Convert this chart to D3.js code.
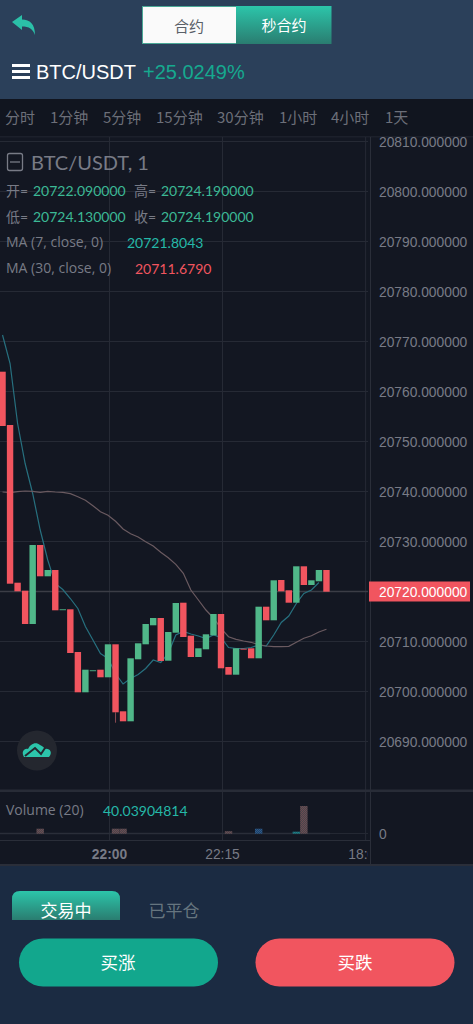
<!DOCTYPE html>
<html><head><meta charset="utf-8">
<script src="https://cdn.jsdelivr.net/npm/d3@7/dist/d3.min.js"></script>
<style>
html,body{margin:0;padding:0;background:#1b2b42;overflow:hidden}
svg{display:block}
text{font-family:"Noto Sans CJK SC","Liberation Sans",sans-serif}
.lat{font-family:Lato,"Noto Sans CJK SC",sans-serif}
.ops{font-family:"Open Sans","Noto Sans CJK SC",sans-serif}
</style></head><body>
<script>
const opens  = [20763.96,20753.3,20721.76,20720.16,20713.5,20729.3,20723.04,20724.3,20716.36,20716.44,20707.9,20699.84,20704.24,20704.36,20702.84,20709.44,20696.04,20694.04,20706.44,20709.44,20713.24,20714.7,20706.16,20711.76,20717.76,20711.16,20706.9,20708.44,20711.24,20715.5,20704.9,20703.36,20708.56,20708.64,20706.64,20716.96,20714.24,20722.3,20720.24,20717.76,20725.04,20721.3,20722.04,20724.3];
const closes = [20753.1,20721.56,20720.04,20713.5,20729.3,20723.04,20724.3,20716.24,20716.44,20707.7,20699.84,20704.36,20704.24,20702.84,20709.44,20695.84,20694.04,20706.64,20709.64,20713.5,20714.7,20706.1,20711.9,20717.7,20710.9,20706.9,20708.64,20711.44,20715.5,20704.64,20703.36,20708.64,20708.5,20706.64,20716.96,20714.24,20722.24,20720.04,20717.76,20725.04,20721.3,20722.24,20724.3,20719.96];
const wickLows = {15:20693.76};
const ma7  = [20771.3,20765.6,20753.6,20745.6,20739.6,20732.3,20726.3,20721.6,20720.4,20718.6,20716.6,20713.0,20710.3,20707.6,20706.6,20703.6,20701.5,20702.6,20703.4,20704.6,20706.3,20705.8,20707.6,20711.3,20712.0,20711.5,20711.1,20710.6,20711.3,20710.8,20708.8,20708.6,20708.6,20708.8,20709.3,20709.1,20711.3,20713.8,20715.1,20717.6,20719.6,20720.3,20721.8];
const ma30 = [20739.9,20739.76,20739.96,20740.1,20740.04,20739.84,20740.04,20739.9,20739.84,20739.56,20738.96,20738.24,20737.16,20735.96,20735.24,20734.04,20732.5,20731.56,20730.9,20729.96,20729.1,20727.84,20726.76,20725.44,20723.64,20720.3,20718.3,20716.3,20714.7,20712.64,20710.96,20710.44,20710.1,20709.84,20709.36,20709.1,20708.96,20708.96,20709.04,20709.84,20710.64,20711.16,20711.9,20712.44];
const volumeBars = [{k:5,v:100,c:"r"},{k:15,v:100,c:"r"},{k:16,v:100,c:"r"},{k:30,v:50,c:"r"},{k:34,v:100,c:"b"},{k:39,v:40,c:"t"},{k:40,v:554,c:"r"}];
const priceTicks = [20690,20700,20710,20720,20730,20740,20750,20760,20770,20780,20790,20800,20810];
const timeTicks = [{m:0,label:"22:00",bold:true},{m:15,label:"22:15"},{m:34,label:"18:00"}];
const intervals = [["分时",5],["1分钟",50],["5分钟",103],["15分钟",156],["30分钟",217],["1小时",279],["4小时",331],["1天",385]];
const lastPrice = 20720;
const RED="#f1555f", GREEN="#50b789", GREY="#787b86";

const W=473,H=1024;
const svg=d3.select("body").append("svg").attr("width",W).attr("height",H);
const defs=svg.append("defs");
function grad(id,c1,c2){const g=defs.append("linearGradient").attr("id",id).attr("x1",0).attr("x2",0).attr("y1",0).attr("y2",1);
 g.append("stop").attr("offset",0).attr("stop-color",c1);g.append("stop").attr("offset",1).attr("stop-color",c2);}
grad("gTab","#2cc5aa","#2a7d70");
function checker(id,c1,c2){const p=defs.append("pattern").attr("id",id).attr("width",2).attr("height",2).attr("patternUnits","userSpaceOnUse");
 p.append("rect").attr("width",2).attr("height",2).attr("fill",c1);
 p.append("rect").attr("width",1).attr("height",1).attr("fill",c2);
 p.append("rect").attr("x",1).attr("y",1).attr("width",1).attr("height",1).attr("fill",c2);}
checker("vr","#47474d","#6e4a50");checker("vb","#1f3f66","#2c5a88");checker("vt","#1a6a72","#1f7f88");
defs.append("clipPath").attr("id","plotClip").append("rect").attr("x",0).attr("y",137).attr("width",368).attr("height",653);
defs.append("clipPath").attr("id","axisClip").append("rect").attr("x",370).attr("y",137).attr("width",103).attr("height",653);
defs.append("clipPath").attr("id","timeClip").append("rect").attr("x",0).attr("y",842).attr("width",368).attr("height",22);

// panels
svg.append("rect").attr("width",W).attr("height",H).attr("fill","#1b2b42");
svg.append("rect").attr("width",W).attr("height",99).attr("fill","#2b405a");
svg.append("rect").attr("y",99).attr("width",W).attr("height",38).attr("fill","#11151f");
svg.append("rect").attr("y",137).attr("width",W).attr("height",727).attr("fill","#131722");
svg.append("rect").attr("y",136).attr("width",W).attr("height",1.5).attr("fill","#1c202b");
svg.append("rect").attr("y",864).attr("width",W).attr("height",2).attr("fill","#2a2e39");

// header
svg.append("path").attr("fill","#2bc0a8").attr("d","M12 22 L22 15 L22 19.5 C30 19.5 35 24 35 35 C33 29 29 26.5 22 26.5 L22 30 Z");
svg.append("rect").attr("x",142.5).attr("y",6.5).attr("width",94).attr("height",37).attr("fill","#fafafa").attr("stroke","#4aa896");
svg.append("rect").attr("x",236).attr("y",6).attr("width",95.5).attr("height",38).attr("fill","url(#gTab)");
svg.append("text").attr("x",189).attr("y",32).attr("text-anchor","middle").attr("font-size",15).attr("fill","#5a6068").text("合约");
svg.append("text").attr("x",284).attr("y",31).attr("text-anchor","middle").attr("font-size",15).attr("fill","#fff").text("秒合约");
[65,71,77].forEach(y=>svg.append("rect").attr("x",12).attr("y",y-1).attr("width",18).attr("height",3).attr("fill","#fff"));
svg.append("text").attr("x",36).attr("y",79).attr("font-size",20).attr("fill","#fff").style("font-family","Liberation Sans").text("BTC/USDT");
svg.append("text").attr("x",143).attr("y",79).attr("font-size",20).attr("fill","#16a98f").style("font-family","Liberation Sans").text("+25.0249%");
svg.append("g").selectAll("text").data(intervals).join("text").attr("x",d=>d[1]).attr("y",123).attr("font-size",15).attr("fill","#6c6f79").text(d=>d[0]);

// scales
const y=d3.scaleLinear().domain([20690,20800]).range([741.5,191.5]);
const x=d3.scaleLinear().domain([0,15]).range([109.5,222.5]);
const cx=k=>x(k-14)-1.5;
const vy=d3.scaleLinear().domain([0,554]).range([833.7,806]);

// grid
const grid=svg.append("g").attr("clip-path","url(#plotClip)");
grid.selectAll(".h").data(priceTicks).join("line").attr("x1",0).attr("x2",368).attr("y1",d=>y(d)).attr("y2",d=>y(d)).attr("stroke","#262a35");
const vg=svg.append("g");
vg.selectAll("line").data(timeTicks).join("line").attr("x1",d=>x(d.m)).attr("x2",d=>x(d.m)).attr("y1",137).attr("y2",864-24).attr("stroke","#262a35");
svg.append("line").attr("x1",370.5).attr("x2",370.5).attr("y1",137).attr("y2",864).attr("stroke","#2a2e39");
svg.append("rect").attr("x",0).attr("y",789.5).attr("width",W).attr("height",2.5).attr("fill","#282c37");
svg.append("line").attr("x1",0).attr("x2",370).attr("y1",840.5).attr("y2",840.5).attr("stroke","#2a2e39");
svg.append("line").attr("x1",0).attr("x2",368).attr("y1",y(lastPrice)).attr("y2",y(lastPrice)).attr("stroke","#3b3d46").attr("stroke-width",1.4);

// MAs then candles
const plot=svg.append("g").attr("clip-path","url(#plotClip)");
const line=d3.line().x((d,i)=>cx(i)).y(d=>y(d));
plot.append("path").attr("d",line(ma7)).attr("fill","none").attr("stroke","#27707f").attr("stroke-width",1.2);
plot.append("path").attr("d",line(ma30)).attr("fill","none").attr("stroke","#6a5a60").attr("stroke-width",1.2);
const cw=6.4;
const candles=opens.map((o,i)=>({i,o,c:closes[i]}));
plot.selectAll(".wick").data(Object.entries(wickLows)).join("line").attr("x1",d=>cx(+d[0])).attr("x2",d=>cx(+d[0])).attr("y1",d=>y(closes[+d[0]])).attr("y2",d=>y(d[1])).attr("stroke","#8a4a52");
plot.selectAll(".c").data(candles).join("rect").attr("x",d=>cx(d.i)-cw/2).attr("width",cw)
 .attr("y",d=>y(Math.max(d.o,d.c))).attr("height",d=>Math.max(0.9,Math.abs(y(d.o)-y(d.c))))
 .attr("fill",d=>d.c>=d.o?GREEN:RED);

// price axis
const ax=svg.append("g").attr("clip-path","url(#axisClip)").append("g").attr("transform","translate(379,0.5)")
 .call(d3.axisRight(y).tickValues(priceTicks).tickSize(0).tickPadding(0).tickFormat(d=>d.toFixed(6)));
ax.select(".domain").remove();
ax.selectAll("text").attr("fill",GREY).attr("font-size",13.8).style("font-family","Liberation Sans");
svg.append("rect").attr("x",369).attr("y",y(lastPrice)-10).attr("width",101).attr("height",20).attr("fill",RED);
svg.append("text").attr("x",379).attr("y",y(lastPrice)+5).attr("font-size",13.8).attr("fill","#fff").style("font-family","Liberation Sans").text(lastPrice.toFixed(6));

// legend
svg.append("rect").attr("x",7.5).attr("y",153.5).attr("width",15).attr("height",17).attr("rx",2).attr("fill","none").attr("stroke",GREY).attr("stroke-width",1.3);
svg.append("line").attr("x1",10).attr("x2",20).attr("y1",162).attr("y2",162).attr("stroke",GREY).attr("stroke-width",1.3);
function t(xp,yp,s,c,fs,cl){return svg.append("text").attr("class",cl||"lat").attr("x",xp).attr("y",yp).attr("font-size",fs||14).attr("fill",c).text(s);}
t(31,170,"BTC/USDT, 1",GREY,20);
const VG="#3cb995";
t(6,195.5,"开=",GREY);t(33,195.5,"20722.090000",VG);t(134,195.5,"高=",GREY);t(161,195.5,"20724.190000",VG);
t(6,221.5,"低=",GREY);t(33,221.5,"20724.130000",VG);t(134,221.5,"收=",GREY);t(161,221.5,"20724.190000",VG);
t(6,247,"MA (7, close, 0)",GREY,14,"ops");t(127,248,"20721.8043","#25b8a8");
t(6,273,"MA (30, close, 0)",GREY,14,"ops");t(135,274,"20711.6790",RED);

// logo
svg.append("circle").attr("cx",37).attr("cy",750.5).attr("r",20).attr("fill","#24272f");
svg.append("path").attr("fill","#2cc5ab").attr("d","M24 757 C21 752 24 748 28 749 C30 744 36 741 40 745 C43 746 44 748 45 749 C50 748 53 753 49 757 Z");
svg.append("path").attr("fill","none").attr("stroke","#24272f").attr("stroke-width",2).attr("d","M25 756 L35 748 L41 754 L47 745");

// volume
t(6,815,"Volume (20)",GREY,14,"ops");
t(103,816,"40.03904814","#25b8a8");
svg.append("line").attr("x1",0).attr("x2",368).attr("y1",833.5).attr("y2",833.5).attr("stroke","#242833");
svg.append("line").attr("x1",0).attr("x2",330).attr("y1",833.5).attr("y2",833.5).attr("stroke","#2a2e39").attr("stroke-width",1.4);
const fillV={r:"url(#vr)",b:"url(#vb)",t:"url(#vt)"};
svg.append("g").selectAll("rect").data(volumeBars).join("rect").attr("x",d=>cx(d.k)-3.7).attr("width",7.4)
 .attr("y",d=>vy(d.v)).attr("height",d=>vy(0)-vy(d.v)).attr("fill",d=>fillV[d.c]);
svg.append("text").attr("x",379).attr("y",838.5).attr("font-size",13.8).attr("fill",GREY).style("font-family","Liberation Sans").text("0");

// time axis
const tg=svg.append("g").attr("clip-path","url(#timeClip)");
tg.selectAll("text").data(timeTicks).join("text").attr("x",d=>x(d.m)).attr("y",859).attr("text-anchor","middle")
 .attr("font-size",13.8).attr("font-weight",d=>d.bold?"bold":"normal").attr("fill",GREY).style("font-family","Liberation Sans").text(d=>d.label);

// bottom
svg.append("path").attr("fill","url(#gTab)").attr("d","M12 920 V899 Q12 891 20 891 H112 Q120 891 120 899 V920 Z");
svg.append("text").attr("x",66).attr("y",917).attr("text-anchor","middle").attr("font-size",17).attr("fill","#fff").text("交易中");
svg.append("text").attr("x",174).attr("y",917).attr("text-anchor","middle").attr("font-size",17).attr("fill","#66757f").text("已平仓");
svg.append("rect").attr("x",19).attr("y",938.5).attr("width",199).attr("height",48).attr("rx",24).attr("fill","#12a78d");
svg.append("rect").attr("x",255.5).attr("y",938.5).attr("width",199).attr("height",48).attr("rx",24).attr("fill","#f1555f");
svg.append("text").attr("x",118).attr("y",969).attr("text-anchor","middle").attr("font-size",17.5).attr("fill","#fff").text("买涨");
svg.append("text").attr("x",355).attr("y",969).attr("text-anchor","middle").attr("font-size",17.5).attr("fill","#fff").text("买跌");
</script>
</body></html>
